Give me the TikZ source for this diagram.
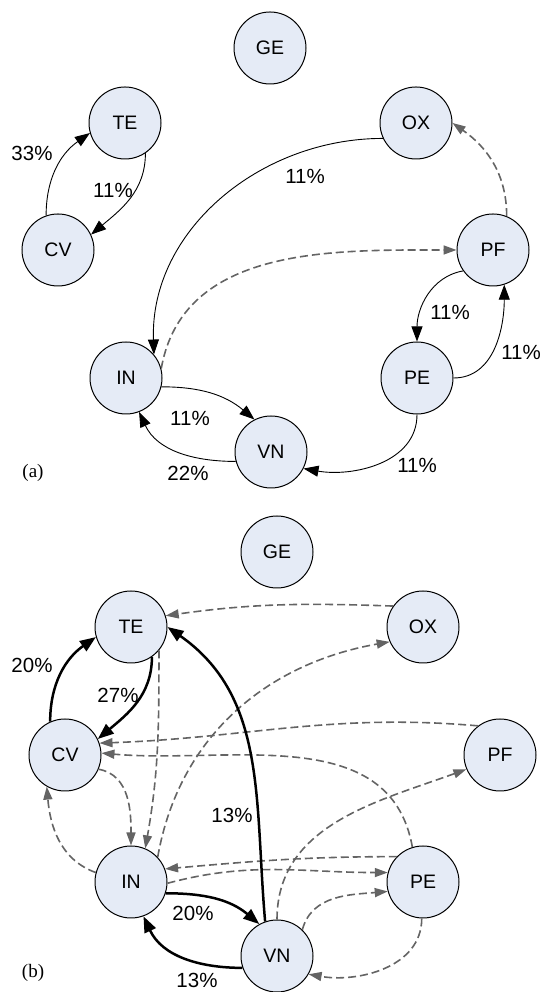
\documentclass[tikz,border=0pt]{standalone}
\usepackage{fontspec}
\setmainfont{Liberation Sans}
\newfontfamily\serifont{Liberation Serif}
\usetikzlibrary{arrows.meta}
\definecolor{nodefill}{RGB}{229,235,246}
\definecolor{dgray}{RGB}{100,100,100}
\begin{document}
\begin{tikzpicture}[x=1pt,y=1pt,
 state/.style={circle,draw=black,line width=1pt,fill=nodefill,minimum size=72pt,inner sep=0pt,font=\fontsize{19.5}{21}\selectfont},
 lab/.style={font=\fontsize{20.5}{22}\selectfont,inner sep=0pt},
 panel/.style={font=\serifont\fontsize{19}{21}\selectfont,inner sep=0pt},
 solidarr/.style={-{Triangle[length=15pt,width=11pt]},line width=0.9pt,black},
 thickarr/.style={-{Triangle[length=16pt,width=12pt]},line width=2.5pt,black},
 dasharr/.style={-{Triangle[length=13pt,width=9pt]},line width=1.6pt,dgray,dash pattern=on 8pt off 4pt},
 ]
\useasboundingbox (0,0) rectangle (544,992);
% ---------- panel (a) ----------
\node[state] (aGE) at (270,944) {GE};
\node[state] (aTE) at (125,869) {TE};
\node[state] (aOX) at (416,869) {OX};
\node[state] (aCV) at (58,742) {CV};
\node[state] (aPF) at (493,742) {PF};
\node[state] (aIN) at (126,614) {IN};
\node[state] (aPE) at (417,614) {PE};
\node[state] (aVN) at (271,540) {VN};
\node[panel] (alab) at (33,519) {(a)};

\draw[solidarr] (aCV.109) to[out=90,in=215] (aTE.196);
\draw[solidarr] (aTE.-56) to[out=-90,in=40] (aCV.25);
\draw[solidarr] (aOX.205) to[out=180,in=92] (aIN.40);
\draw[dasharr] (aPF.68) to[out=90,in=-35] (aOX.0);
\draw[dasharr] (aIN.15) to[out=80,in=180] (aPF.180);
\draw[solidarr] (aPF.215) to[out=190,in=90] (aPE.90);
\draw[solidarr] (aPE.0) to[out=0,in=-90] (aPF.-72);
\draw[solidarr] (aIN.-14) to[out=0,in=140] (aVN.117);
\draw[solidarr] (aVN.195) to[out=180,in=-65] (aIN.-69);
\draw[solidarr] (aPE.-90) to[out=-90,in=-10] (aVN.-27);

\node[lab] (l1) at (32,839) {33\%};
\node[lab] (l2) at (113,802) {11\%};
\node[lab] (l3) at (305,816) {11\%};
\node[lab] (l4) at (450,680) {11\%};
\node[lab] (l5) at (521,640) {11\%};
\node[lab] (l6) at (190,574) {11\%};
\node[lab] (l7) at (188,519) {22\%};
\node[lab] (l8) at (417,527) {11\%};

% ---------- panel (b) ----------
\node[state] (bGE) at (277,440) {GE};
\node[state] (bTE) at (131,365) {TE};
\node[state] (bOX) at (423,365) {OX};
\node[state] (bCV) at (65,237) {CV};
\node[state] (bPF) at (500,237) {PF};
\node[state] (bIN) at (131,110) {IN};
\node[state] (bPE) at (423,110) {PE};
\node[state] (bVN) at (277,36) {VN};
\node[panel] (blab) at (33,19) {(b)};

% dashed
\draw[dasharr] (bOX.145) to[out=178,in=8] (bTE.18);
\draw[dasharr] (bIN.43) to[out=80,in=190] (bOX.204);
\draw[dasharr] (bTE.-40) to[out=-90,in=80] (bIN.67);
\draw[dasharr] (bCV.-23) to[out=-10,in=90] (bIN.90);
\draw[dasharr] (bIN.165) to[out=160,in=-85] (bCV.-120);
\draw[dasharr] (bPF.127) to[out=175,in=2] (bCV.19);
\draw[dasharr] (bPE.107) to[out=100,in=-5] (bCV.3);
\draw[dasharr] (bPE.136) to[out=180,in=5] (bIN.21);
\draw[dasharr] (bIN.-2) to[out=15,in=180] (bPE.165);
\draw[dasharr] (bVN.90) to[out=90,in=200] (bPF.203);
\draw[dasharr] (bVN.46) to[out=75,in=185] (bPE.195);
\draw[dasharr] (bPE.-92) to[out=-90,in=-10] (bVN.-30);
% thick
\draw[thickarr] (bCV.114) to[out=90,in=215] (bTE.196);
\draw[thickarr] (bTE.-55) to[out=-90,in=40] (bCV.26);
\draw[thickarr] (bVN.109) to[out=95,in=-35] (bTE.0);
\draw[thickarr] (bIN.-18) to[out=0,in=140] (bVN.119);
\draw[thickarr] (bVN.199) to[out=180,in=-65] (bIN.-70);

\node[lab] (m1) at (32,327) {20\%};
\node[lab] (m2) at (118,297) {27\%};
\node[lab] (m3) at (232,177) {13\%};
\node[lab] (m4) at (193,79) {20\%};
\node[lab] (m5) at (197,12) {13\%};
\end{tikzpicture}
\end{document}
